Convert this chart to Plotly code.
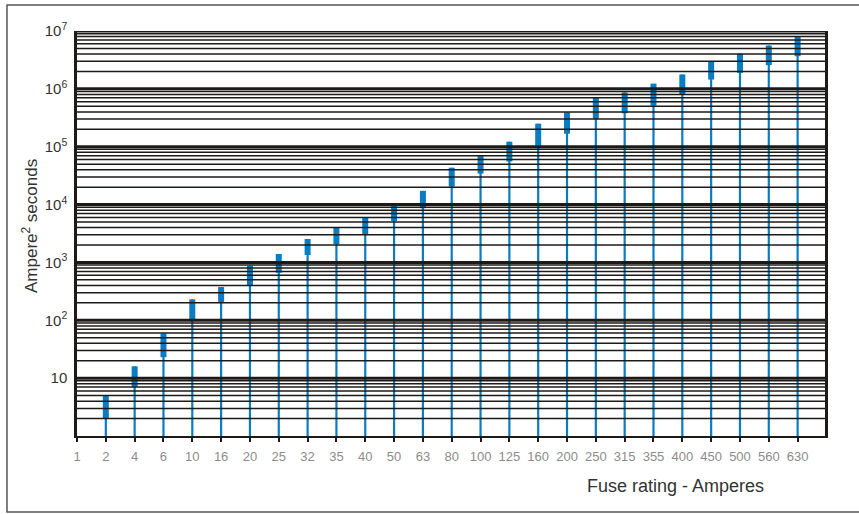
import plotly.graph_objects as go

# ---- data ----
fuse_labels = ["1", "2", "4", "6", "10", "16", "20", "25", "32", "35", "40", "50", "63",
               "80", "100", "125", "160", "200", "250", "315", "355", "400", "450",
               "500", "560", "630"]
# I2t ranges (pre-arcing low, total high) for fuses 2 .. 630
i2t_low = [2.0, 7.0, 23, 100, 208, 406, 663, 1343, 2085, 3070, 5210, 8650,
           20500, 34400, 55600, 104000, 168000, 302000, 380000, 514000,
           806000, 1450000, 1890000, 2570000, 3670000]
i2t_high = [4.9, 16, 59, 230, 375, 877, 1400, 2540, 4000, 5950, 9400, 17260,
            43300, 70600, 122000, 250000, 393000, 715000, 863000, 1230000,
            1770000, 3000000, 4040000, 5600000, 8170000]
decades = [1, 10, 100, 1000, 10000, 100000, 1000000, 10000000]
decade_labels = ["", "10", "10<sup>2</sup>", "10<sup>3</sup>", "10<sup>4</sup>",
                 "10<sup>5</sup>", "10<sup>6</sup>", "10<sup>7</sup>"]

BLUE = "#0a7cc1"
FONT = "Liberation Sans"

idx = list(range(len(fuse_labels)))
bar_idx = idx[1:]

stem_x, stem_y, rng_x, rng_y = [], [], [], []
for i, lo, hi in zip(bar_idx, i2t_low, i2t_high):
    stem_x += [i, i, None]
    stem_y += [decades[0], hi, None]
    rng_x += [i, i, None]
    rng_y += [lo, hi, None]

fig = go.Figure()
fig.add_trace(go.Scatter(x=stem_x, y=stem_y, mode="lines",
                         line=dict(color=BLUE, width=2.2), hoverinfo="skip",
                         showlegend=False))
fig.add_trace(go.Scatter(x=rng_x, y=rng_y, mode="lines",
                         line=dict(color=BLUE, width=6), hoverinfo="skip",
                         showlegend=False))

# grid lines drawn above the bars (as in the reference)
shapes = []
for d in decades[:-1]:
    for k in range(2, 10):
        shapes.append(dict(type="line", xref="paper", x0=0, x1=1, yref="y",
                           y0=k * d, y1=k * d, layer="above",
                           line=dict(color="#1e1a18", width=1.5)))
for d in decades[1:]:
    shapes.append(dict(type="line", xref="paper", x0=0, x1=1, yref="y",
                       y0=d, y1=d, layer="above",
                       line=dict(color="#1e1a18", width=3)))
# outer frame
shapes.append(dict(type="rect", xref="paper", yref="paper",
                   x0=-0.0936, x1=1.08, y0=-0.1877, y1=1.064, layer="below",
                   line=dict(color="#555555", width=1.5)))

fig.update_layout(
    width=859, height=514,
    margin=dict(l=77, r=34, t=31, b=78),
    paper_bgcolor="white", plot_bgcolor="white",
    font=dict(family=FONT, color="#333333"),
    shapes=shapes,
    xaxis=dict(range=[0, 25.95], tickmode="array", tickvals=idx,
               ticktext=fuse_labels, showgrid=False, zeroline=False,
               showline=True, linecolor="#1e1a18", linewidth=2,
               ticks="outside", ticklen=4, tickwidth=2, tickcolor="#1e1a18",
               tickfont=dict(size=13, color="#8c8c8c", family=FONT),
               ticklabelstandoff=3),
    yaxis=dict(type="log", range=[0, 7], tickmode="array", tickvals=decades,
               ticktext=decade_labels, showgrid=False, zeroline=False,
               showline=True, mirror=True, linecolor="#1e1a18", linewidth=2.5,
               ticks="", tickfont=dict(size=15, color="#333333", family=FONT),
               ticklabelstandoff=4),
    annotations=[
        dict(text="Fuse rating - Amperes", xref="paper", yref="paper",
             x=0.7995, y=-0.1235, showarrow=False, xanchor="center",
             yanchor="middle", font=dict(size=18, color="#333333", family=FONT)),
        dict(text="Ampere<sup>2</sup> seconds", xref="paper", yref="paper",
             x=-0.0628, y=0.5185, showarrow=False, textangle=-90,
             xanchor="center", yanchor="middle",
             font=dict(size=17, color="#333333", family=FONT)),
    ],
)

fig.write_html("out.html",
               config={"displayModeBar": False},
               post_script="document.body.style.margin='0';"
                           "document.body.style.overflow='hidden';")
